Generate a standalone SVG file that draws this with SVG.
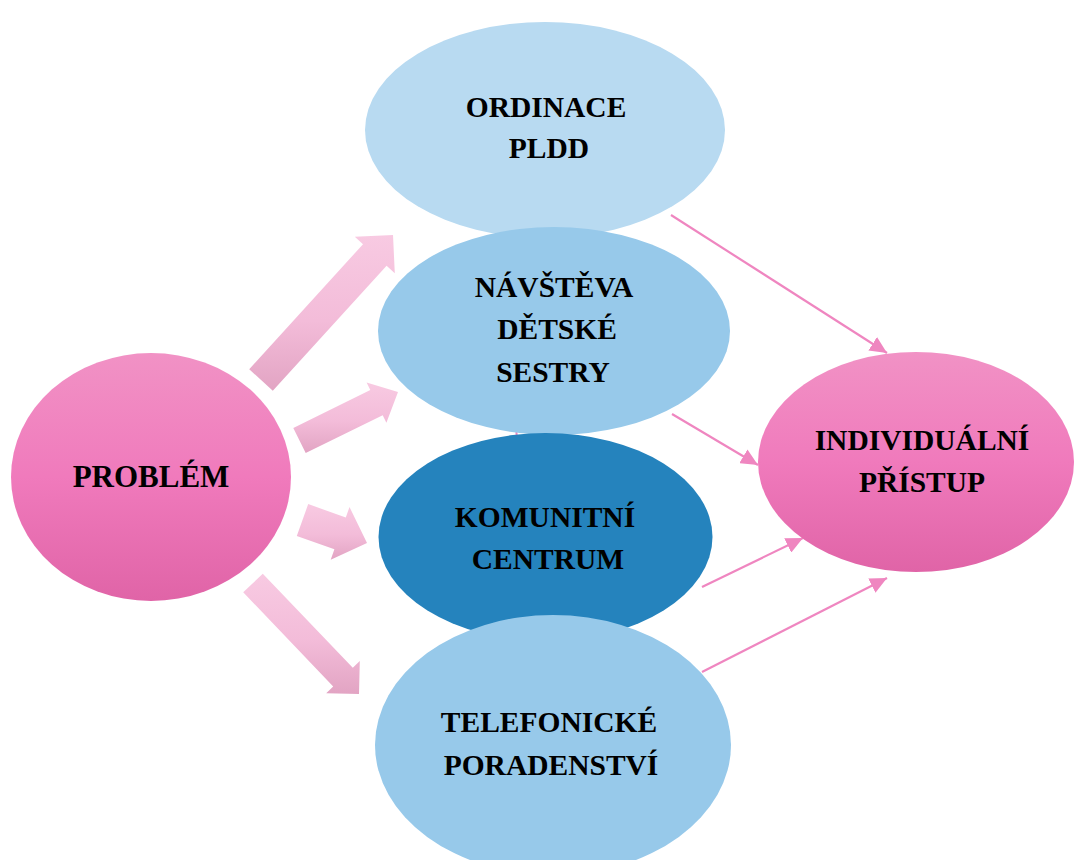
<svg xmlns="http://www.w3.org/2000/svg" width="1075" height="860" viewBox="0 0 1075 860">
  <defs>
    <linearGradient id="pinkNode" x1="0" y1="0" x2="0" y2="1">
      <stop offset="0" stop-color="#f192c5"/>
      <stop offset="0.5" stop-color="#f07abc"/>
      <stop offset="1" stop-color="#e064a7"/>
    </linearGradient>
    <linearGradient id="blockArrow" x1="0" y1="0" x2="0" y2="1">
      <stop offset="0" stop-color="#f8cae2"/>
      <stop offset="0.55" stop-color="#f3bcd9"/>
      <stop offset="1" stop-color="#e2a4c3"/>
    </linearGradient>
    <marker id="head" markerUnits="userSpaceOnUse" markerWidth="18" markerHeight="16" refX="17" refY="8" orient="auto">
      <path d="M0,0 L17,8 L0,16 Z" fill="#ef86c0"/>
    </marker>
    <style>
      .label { font-family: "Liberation Serif", "Times New Roman", serif; font-weight: bold; font-size: 29.5px; fill: #000; text-anchor: middle; }
      .big { font-size: 31px; }
      .link { stroke: #ef86c0; stroke-width: 2.2; fill: none; marker-end: url(#head); }
      .block { fill: url(#blockArrow); }
    </style>
  </defs>

  <!-- connectors: wide arrows out of the problem, thin arrows into the outcome -->
  <g id="connectors">
    <path class="block" d="M272.8,390.8 L386.6,265.8 L394.8,273.2 L393,235 L354.8,236.8 L363,244.2 L249.2,369.2 Z"/>
    <path class="block" d="M305.7,453.1 L382.7,415.2 L386.4,422.7 L398,392 L366.6,382.5 L370.3,390 L293.3,427.9 Z"/>
    <path class="block" d="M296.8,535.9 L334.4,549.3 L330.7,559.8 L367,543 L349.5,507 L345.8,517.5 L308.2,504.1 Z"/>
    <path class="block" d="M262.8,573.7 L352.8,667.8 L359.8,661 L359,694 L326.2,693.2 L333.2,686.4 L243.2,592.3 Z"/>
    <line x1="516" y1="424" x2="517" y2="442" stroke="#ef86c0" stroke-width="2"/>
    <line class="link" x1="671" y1="215" x2="887" y2="353"/>
    <line class="link" x1="672" y1="414" x2="758" y2="465"/>
    <line class="link" x1="702" y1="587" x2="803" y2="538"/>
    <line class="link" x1="702" y1="672" x2="887" y2="578"/>
  </g>

  <g id="node-problem">
    <ellipse cx="151" cy="477" rx="140" ry="124" fill="url(#pinkNode)"/>
    <text class="label big" x="151" y="487">PROBLÉM</text>
  </g>

  <g id="node-ordinace">
    <ellipse cx="545" cy="130" rx="180" ry="108" fill="#b8daf1"/>
    <text class="label" x="546" y="117">ORDINACE</text>
    <text class="label" x="549" y="158">PLDD</text>
  </g>

  <g id="node-navsteva">
    <ellipse cx="554" cy="331" rx="176" ry="104" fill="#97c9ea"/>
    <text class="label" x="554" y="297">NÁVŠTĚVA</text>
    <text class="label" x="557" y="339">DĚTSKÉ</text>
    <text class="label" x="553" y="382">SESTRY</text>
  </g>

  <g id="node-komunitni">
    <ellipse cx="545.5" cy="537" rx="167" ry="104" fill="#2583bd"/>
    <text class="label" x="545" y="527">KOMUNITNÍ</text>
    <text class="label" x="548" y="569">CENTRUM</text>
  </g>

  <g id="node-telefonicke">
    <ellipse cx="553" cy="745" rx="178" ry="130" fill="#97c9ea"/>
    <text class="label" x="549" y="732">TELEFONICKÉ</text>
    <text class="label" x="551" y="775">PORADENSTVÍ</text>
  </g>

  <g id="node-individualni">
    <ellipse cx="916" cy="462" rx="158" ry="110" fill="url(#pinkNode)"/>
    <text class="label" x="922" y="450">INDIVIDUÁLNÍ</text>
    <text class="label" x="922" y="492">PŘÍSTUP</text>
  </g>
</svg>
